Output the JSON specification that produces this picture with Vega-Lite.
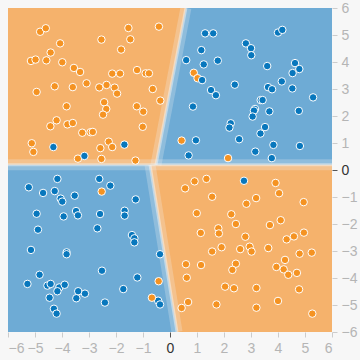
{
  "$schema": "https://vega.github.io/schema/vega-lite/v6.json",
  "width": 324,
  "height": 324,
  "autosize": {"type": "none"},
  "padding": {"left": 8, "top": 8, "right": 28, "bottom": 28},
  "background": "#f7f7f7",
  "view": {"fill": "#6eabd5", "stroke": null},
  "config": {
    "axis": {
      "grid": false,
      "domain": false,
      "tickColor": {"condition": {"test": "datum.value === 0", "value": "#555555"}, "value": "#cccccc"},
      "tickSize": 5,
      "labelOverlap": false,
      "labelFont": "Liberation Sans",
      "labelFontSize": 14,
      "labelPadding": 4,
      "labelColor": {"condition": {"test": "datum.value === 0", "value": "#333333"}, "value": "#b5b5b5"},
      "title": null
    }
  },
  "datasets": {
    "regions": [
      {"region": "tl", "y": 6, "x": -6, "x2": 0.59},
      {"region": "tl", "y": 0.19, "x": -6, "x2": -0.52},
      {"region": "br", "y": 0.19, "x": -0.74, "x2": 6},
      {"region": "br", "y": -6, "x": 0.26, "x2": 6}
    ],
    "edges": [
      {"seg": "top", "x": 0.59, "y": 6},
      {"seg": "top", "x": -0.52, "y": 0.19},
      {"seg": "mid", "x": -6, "y": 0.19},
      {"seg": "mid", "x": 6, "y": 0.19},
      {"seg": "bot", "x": -0.74, "y": 0.19},
      {"seg": "bot", "x": 0.26, "y": -6}
    ],
    "points": [
      {"x": -4.81, "y": 5.12, "label": "orange"},
      {"x": -4.60, "y": 5.25, "label": "orange"},
      {"x": -4.07, "y": 4.69, "label": "orange"},
      {"x": -4.42, "y": 4.35, "label": "orange"},
      {"x": -5.15, "y": 4.04, "label": "orange"},
      {"x": -4.98, "y": 4.09, "label": "orange"},
      {"x": -4.58, "y": 4.06, "label": "orange"},
      {"x": -3.99, "y": 3.99, "label": "orange"},
      {"x": -3.56, "y": 3.78, "label": "orange"},
      {"x": -3.33, "y": 3.63, "label": "orange"},
      {"x": -2.54, "y": 4.83, "label": "orange"},
      {"x": -1.54, "y": 5.26, "label": "orange"},
      {"x": -1.47, "y": 4.84, "label": "orange"},
      {"x": -1.81, "y": 4.46, "label": "orange"},
      {"x": -0.41, "y": 5.31, "label": "orange"},
      {"x": -2.14, "y": 3.57, "label": "orange"},
      {"x": -1.85, "y": 3.57, "label": "orange"},
      {"x": -1.22, "y": 3.70, "label": "orange"},
      {"x": -0.90, "y": 3.58, "label": "orange"},
      {"x": -0.78, "y": 3.58, "label": "orange"},
      {"x": -0.64, "y": 3.00, "label": "orange"},
      {"x": -0.36, "y": 2.57, "label": "orange"},
      {"x": -4.94, "y": 2.89, "label": "orange"},
      {"x": -4.27, "y": 3.10, "label": "orange"},
      {"x": -3.60, "y": 3.07, "label": "orange"},
      {"x": -3.09, "y": 3.21, "label": "orange"},
      {"x": -2.62, "y": 3.06, "label": "orange"},
      {"x": -2.35, "y": 3.15, "label": "orange"},
      {"x": -2.05, "y": 3.05, "label": "orange"},
      {"x": -1.96, "y": 2.83, "label": "orange"},
      {"x": -3.83, "y": 2.36, "label": "orange"},
      {"x": -2.44, "y": 2.51, "label": "orange"},
      {"x": -2.36, "y": 2.26, "label": "orange"},
      {"x": -2.48, "y": 2.05, "label": "orange"},
      {"x": -1.23, "y": 2.36, "label": "orange"},
      {"x": -0.99, "y": 2.16, "label": "orange"},
      {"x": -1.01, "y": 1.60, "label": "orange"},
      {"x": -4.20, "y": 1.84, "label": "orange"},
      {"x": -4.43, "y": 1.62, "label": "orange"},
      {"x": -3.80, "y": 1.69, "label": "orange"},
      {"x": -3.60, "y": 1.74, "label": "orange"},
      {"x": -3.25, "y": 1.38, "label": "orange"},
      {"x": -2.94, "y": 1.40, "label": "orange"},
      {"x": -2.86, "y": 1.41, "label": "orange"},
      {"x": -5.12, "y": 0.99, "label": "orange"},
      {"x": -5.06, "y": 0.67, "label": "orange"},
      {"x": -2.27, "y": 1.05, "label": "orange"},
      {"x": -2.14, "y": 0.85, "label": "orange"},
      {"x": -2.58, "y": 0.81, "label": "orange"},
      {"x": -3.41, "y": 0.42, "label": "orange"},
      {"x": -2.54, "y": 0.41, "label": "orange"},
      {"x": -1.28, "y": 0.35, "label": "orange"},
      {"x": 0.43, "y": 1.09, "label": "orange"},
      {"x": 0.88, "y": 3.60, "label": "orange"},
      {"x": 1.02, "y": 3.40, "label": "orange"},
      {"x": 2.15, "y": 0.44, "label": "orange"},
      {"x": -4.32, "y": 0.85, "label": "blue"},
      {"x": -1.69, "y": 0.94, "label": "blue"},
      {"x": -3.17, "y": 0.52, "label": "blue"},
      {"x": 1.30, "y": 5.06, "label": "blue"},
      {"x": 1.60, "y": 5.06, "label": "blue"},
      {"x": 4.00, "y": 5.09, "label": "blue"},
      {"x": 4.16, "y": 5.19, "label": "blue"},
      {"x": 2.81, "y": 4.69, "label": "blue"},
      {"x": 3.00, "y": 4.51, "label": "blue"},
      {"x": 3.01, "y": 4.25, "label": "blue"},
      {"x": 1.16, "y": 4.44, "label": "blue"},
      {"x": 0.60, "y": 4.07, "label": "blue"},
      {"x": 1.25, "y": 3.91, "label": "blue"},
      {"x": 1.77, "y": 4.05, "label": "blue"},
      {"x": 3.60, "y": 3.85, "label": "blue"},
      {"x": 4.63, "y": 3.96, "label": "blue"},
      {"x": 4.54, "y": 3.59, "label": "blue"},
      {"x": 4.79, "y": 3.74, "label": "blue"},
      {"x": 1.19, "y": 3.33, "label": "blue"},
      {"x": 4.14, "y": 3.28, "label": "blue"},
      {"x": 1.52, "y": 2.96, "label": "blue"},
      {"x": 1.70, "y": 2.77, "label": "blue"},
      {"x": 2.40, "y": 3.16, "label": "blue"},
      {"x": 3.63, "y": 3.07, "label": "blue"},
      {"x": 3.78, "y": 2.99, "label": "blue"},
      {"x": 4.53, "y": 3.02, "label": "blue"},
      {"x": 5.30, "y": 2.69, "label": "blue"},
      {"x": 0.85, "y": 2.35, "label": "blue"},
      {"x": 3.36, "y": 2.59, "label": "blue"},
      {"x": 3.43, "y": 2.59, "label": "blue"},
      {"x": 3.15, "y": 2.26, "label": "blue"},
      {"x": 3.11, "y": 2.20, "label": "blue"},
      {"x": 3.68, "y": 2.17, "label": "blue"},
      {"x": 3.06, "y": 1.98, "label": "blue"},
      {"x": 4.77, "y": 2.19, "label": "blue"},
      {"x": 2.25, "y": 1.73, "label": "blue"},
      {"x": 2.20, "y": 1.57, "label": "blue"},
      {"x": 2.56, "y": 1.14, "label": "blue"},
      {"x": 3.52, "y": 1.59, "label": "blue"},
      {"x": 3.35, "y": 1.35, "label": "blue"},
      {"x": 3.83, "y": 0.93, "label": "blue"},
      {"x": 3.16, "y": 0.68, "label": "blue"},
      {"x": 4.81, "y": 0.89, "label": "blue"},
      {"x": 0.96, "y": 1.10, "label": "blue"},
      {"x": 0.69, "y": 0.54, "label": "blue"},
      {"x": 3.77, "y": 0.44, "label": "blue"},
      {"x": -4.17, "y": -0.33, "label": "blue"},
      {"x": -2.62, "y": -0.33, "label": "blue"},
      {"x": -5.23, "y": -0.64, "label": "blue"},
      {"x": -4.70, "y": -0.85, "label": "blue"},
      {"x": -4.27, "y": -0.78, "label": "blue"},
      {"x": -4.05, "y": -1.06, "label": "blue"},
      {"x": -3.99, "y": -1.17, "label": "blue"},
      {"x": -3.53, "y": -0.95, "label": "blue"},
      {"x": -2.21, "y": -0.58, "label": "blue"},
      {"x": -1.27, "y": -1.09, "label": "blue"},
      {"x": -4.94, "y": -1.62, "label": "blue"},
      {"x": -3.94, "y": -1.72, "label": "blue"},
      {"x": -3.48, "y": -1.52, "label": "blue"},
      {"x": -3.41, "y": -1.68, "label": "blue"},
      {"x": -2.59, "y": -1.63, "label": "blue"},
      {"x": -1.68, "y": -1.51, "label": "blue"},
      {"x": -1.68, "y": -1.69, "label": "blue"},
      {"x": -4.89, "y": -2.21, "label": "blue"},
      {"x": -2.69, "y": -2.16, "label": "blue"},
      {"x": -1.41, "y": -2.41, "label": "blue"},
      {"x": -1.32, "y": -2.53, "label": "blue"},
      {"x": -1.32, "y": -2.68, "label": "blue"},
      {"x": -5.15, "y": -2.96, "label": "blue"},
      {"x": -3.83, "y": -3.05, "label": "blue"},
      {"x": -3.83, "y": -3.12, "label": "blue"},
      {"x": -0.37, "y": -3.12, "label": "blue"},
      {"x": -2.52, "y": -3.73, "label": "blue"},
      {"x": -4.83, "y": -3.88, "label": "blue"},
      {"x": -5.28, "y": -4.22, "label": "blue"},
      {"x": -4.54, "y": -4.28, "label": "blue"},
      {"x": -4.42, "y": -4.22, "label": "blue"},
      {"x": -4.10, "y": -4.35, "label": "blue"},
      {"x": -3.90, "y": -4.25, "label": "blue"},
      {"x": -4.17, "y": -4.49, "label": "blue"},
      {"x": -4.46, "y": -4.73, "label": "blue"},
      {"x": -3.40, "y": -4.49, "label": "blue"},
      {"x": -3.47, "y": -4.75, "label": "blue"},
      {"x": -3.15, "y": -4.58, "label": "blue"},
      {"x": -1.21, "y": -3.98, "label": "blue"},
      {"x": -1.73, "y": -4.41, "label": "blue"},
      {"x": -0.44, "y": -4.84, "label": "blue"},
      {"x": -0.37, "y": -4.98, "label": "blue"},
      {"x": -2.41, "y": -4.91, "label": "blue"},
      {"x": -4.30, "y": -5.14, "label": "blue"},
      {"x": -4.20, "y": -5.32, "label": "blue"},
      {"x": 2.74, "y": -0.40, "label": "blue"},
      {"x": -2.53, "y": -0.80, "label": "orange"},
      {"x": -0.42, "y": -4.12, "label": "orange"},
      {"x": -0.67, "y": -4.73, "label": "orange"},
      {"x": 0.91, "y": -0.42, "label": "orange"},
      {"x": 1.35, "y": -0.33, "label": "orange"},
      {"x": 0.56, "y": -0.68, "label": "orange"},
      {"x": 1.56, "y": -0.99, "label": "orange"},
      {"x": 2.83, "y": -1.25, "label": "orange"},
      {"x": 3.19, "y": -1.04, "label": "orange"},
      {"x": 3.91, "y": -0.48, "label": "orange"},
      {"x": 4.04, "y": -0.86, "label": "orange"},
      {"x": 4.95, "y": -1.19, "label": "orange"},
      {"x": 0.99, "y": -1.60, "label": "orange"},
      {"x": 2.27, "y": -1.64, "label": "orange"},
      {"x": 2.44, "y": -2.00, "label": "orange"},
      {"x": 1.79, "y": -2.16, "label": "orange"},
      {"x": 1.81, "y": -2.35, "label": "orange"},
      {"x": 1.14, "y": -2.33, "label": "orange"},
      {"x": 1.91, "y": -2.86, "label": "orange"},
      {"x": 1.56, "y": -3.02, "label": "orange"},
      {"x": 2.79, "y": -2.47, "label": "orange"},
      {"x": 3.70, "y": -2.04, "label": "orange"},
      {"x": 4.10, "y": -1.86, "label": "orange"},
      {"x": 4.96, "y": -2.32, "label": "orange"},
      {"x": 4.59, "y": -2.46, "label": "orange"},
      {"x": 4.32, "y": -2.57, "label": "orange"},
      {"x": 2.60, "y": -2.93, "label": "orange"},
      {"x": 2.95, "y": -2.84, "label": "orange"},
      {"x": 3.02, "y": -3.02, "label": "orange"},
      {"x": 3.64, "y": -2.89, "label": "orange"},
      {"x": 4.80, "y": -3.10, "label": "orange"},
      {"x": 5.25, "y": -3.06, "label": "orange"},
      {"x": 4.26, "y": -3.33, "label": "orange"},
      {"x": 3.94, "y": -3.59, "label": "orange"},
      {"x": 4.21, "y": -3.68, "label": "orange"},
      {"x": 4.38, "y": -3.88, "label": "orange"},
      {"x": 4.70, "y": -3.81, "label": "orange"},
      {"x": 0.59, "y": -3.49, "label": "orange"},
      {"x": 1.15, "y": -3.52, "label": "orange"},
      {"x": 0.62, "y": -3.99, "label": "orange"},
      {"x": 2.44, "y": -3.47, "label": "orange"},
      {"x": 2.31, "y": -3.70, "label": "orange"},
      {"x": 4.78, "y": -4.42, "label": "orange"},
      {"x": 2.04, "y": -4.32, "label": "orange"},
      {"x": 2.37, "y": -4.38, "label": "orange"},
      {"x": 3.20, "y": -4.37, "label": "orange"},
      {"x": 0.67, "y": -4.89, "label": "orange"},
      {"x": 0.43, "y": -5.11, "label": "orange"},
      {"x": 1.72, "y": -4.98, "label": "orange"},
      {"x": 3.20, "y": -5.10, "label": "orange"},
      {"x": 4.00, "y": -4.85, "label": "orange"},
      {"x": 5.27, "y": -5.32, "label": "orange"}
    ]
  },
  "encoding": {
    "x": {"field": "x", "type": "quantitative", "scale": {"domain": [-6, 6], "nice": false, "zero": false},
          "axis": {"orient": "bottom", "values": [-6, -5, -4, -3, -2, -1, 0, 1, 2, 3, 4, 5, 6], "tickCount": 13, "labelOverlap": false}},
    "y": {"field": "y", "type": "quantitative", "scale": {"domain": [-6, 6], "nice": false, "zero": false},
          "axis": {"orient": "right", "values": [-6, -5, -4, -3, -2, -1, 0, 1, 2, 3, 4, 5, 6], "tickCount": 13, "labelOverlap": false, "labelAlign": "left", "labelBaseline": "middle"}}
  },
  "layer": [
    {
      "data": {"name": "regions"},
      "mark": {"type": "area", "orient": "horizontal", "color": "#f5b26c", "clip": true},
      "encoding": {
        "x2": {"field": "x2"},
        "detail": {"field": "region"}
      }
    },
    {
      "data": {"name": "edges"},
      "mark": {"type": "line", "color": "#f2f3f3", "strokeWidth": 11, "opacity": 0.25, "clip": true, "strokeCap": "butt"},
      "encoding": {
        "detail": {"field": "seg"}
      }
    },
    {
      "data": {"name": "edges"},
      "mark": {"type": "line", "color": "#f2f3f3", "strokeWidth": 3, "opacity": 0.5, "clip": true, "strokeCap": "butt"},
      "encoding": {
        "detail": {"field": "seg"}
      }
    },
    {
      "data": {"name": "points"},
      "mark": {"type": "point", "shape": "circle", "filled": true, "size": 56, "stroke": "#ffffff", "strokeWidth": 1, "opacity": 1},
      "encoding": {
        "color": {"field": "label", "type": "nominal", "scale": {"domain": ["orange", "blue"], "range": ["#f59322", "#0877bd"]}, "legend": null},
        "stroke": {"value": "#ffffff"}
      }
    }
  ]
}
